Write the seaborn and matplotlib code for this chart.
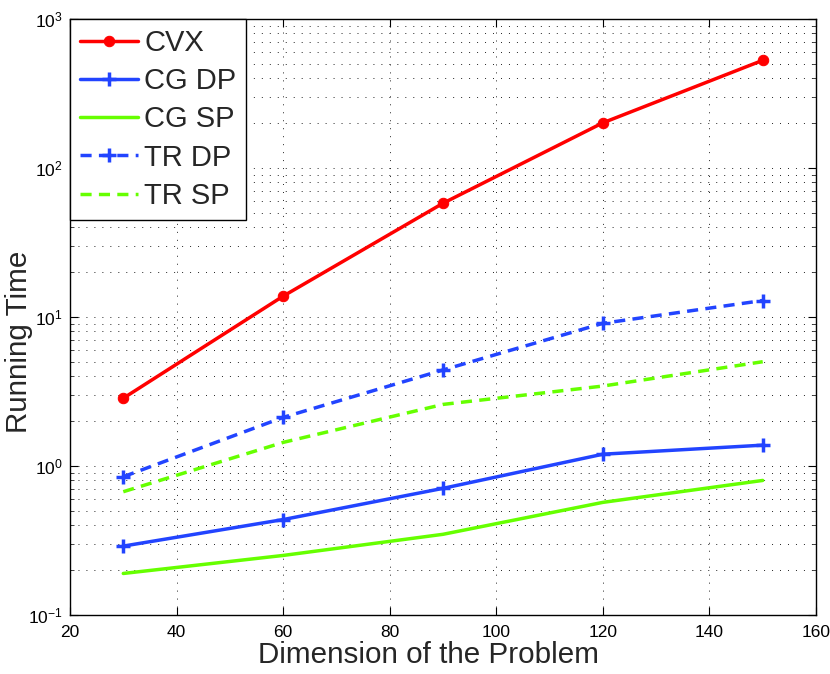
import numpy as np
import pandas as pd
import matplotlib
matplotlib.use("Agg")
import matplotlib.pyplot as plt
import seaborn as sns

dims = [30, 60, 90, 120, 150]
cvx = [2.85, 13.8, 58, 201, 528]
cg_dp = [0.290, 0.437, 0.708, 1.20, 1.38]
cg_sp = [0.19, 0.251, 0.348, 0.570, 0.80]
tr_dp = [0.847, 2.12, 4.41, 9.07, 12.9]
tr_sp = [0.672, 1.44, 2.59, 3.44, 5.01]

sns.set_style("ticks")
plt.rcParams['font.family'] = ['Liberation Sans', 'DejaVu Sans']
plt.rcParams['mathtext.fontset'] = 'custom'
plt.rcParams['mathtext.rm'] = 'Liberation Sans'
plt.rcParams['mathtext.it'] = 'Liberation Sans'

fig = plt.figure(figsize=(8.3, 6.74), dpi=100, facecolor='white')
ax = fig.add_axes([70/830, 59/674, (816-70)/830, (615-19)/674])

red = '#FF0000'
blue = '#2244FF'
green = '#66FF00'
lw = 2.5
dash = (0, (3.2, 2.1))

sns.lineplot(x=dims, y=cvx, ax=ax, color=red, lw=lw, marker='o', markersize=7.5,
             markeredgecolor=red, label='CVX')
sns.lineplot(x=dims, y=cg_dp, ax=ax, color=blue, lw=lw, marker='+', markersize=10,
             markeredgewidth=2.5, markeredgecolor=blue, label='CG DP')
sns.lineplot(x=dims, y=cg_sp, ax=ax, color=green, lw=lw, label='CG SP')
sns.lineplot(x=dims, y=tr_dp, ax=ax, color=blue, lw=lw, marker='+', markersize=10,
             markeredgewidth=2.5, markeredgecolor=blue, linestyle=dash, label='TR DP')
sns.lineplot(x=dims, y=tr_sp, ax=ax, color=green, lw=lw, linestyle=dash, label='TR SP')

ax.set_yscale('log')
ax.set_xlim(20, 160)
ax.set_ylim(0.1, 1000)
ax.set_xticks([20, 40, 60, 80, 100, 120, 140, 160])

grid_ls = (0, (1, 7.2))
ax.grid(True, which='major', axis='both', color='#222222', linestyle=grid_ls, linewidth=0.7)
ax.grid(True, which='minor', axis='y', color='#222222', linestyle=grid_ls, linewidth=0.7)
ax.set_axisbelow(True)

for s in ax.spines.values():
    s.set_visible(True)
    s.set_color('black')
    s.set_linewidth(1.0)

ax.tick_params(which='major', direction='in', length=6, width=0.8, top=True, right=True,
               labelsize=12.5, colors='black')
ax.tick_params(axis='x', which='major', pad=7)
ax.tick_params(axis='y', which='major', pad=5)
ax.tick_params(which='minor', direction='in', length=3, width=0.6, top=True, right=True)
ax.tick_params(axis='x', which='minor', bottom=False, top=False)

ax.set_xlabel('Dimension of the Problem', fontsize=21.3)
ax.set_ylabel('Running Time', fontsize=21.3)
ax.xaxis.set_label_coords((429 - 70) / 746, (615 - 641) / 596)
ax.yaxis.set_label_coords((33 - 70) / 746, (615 - 341.5) / 596)

leg = ax.legend(loc='upper left', fontsize=21, frameon=True, fancybox=False,
                edgecolor='black', framealpha=1, borderaxespad=0, handlelength=2.0,
                handletextpad=0.2, labelspacing=0.35, borderpad=0.34)
leg.get_frame().set_linewidth(1.0)

fig.savefig('out.png', dpi=100, facecolor='white')
